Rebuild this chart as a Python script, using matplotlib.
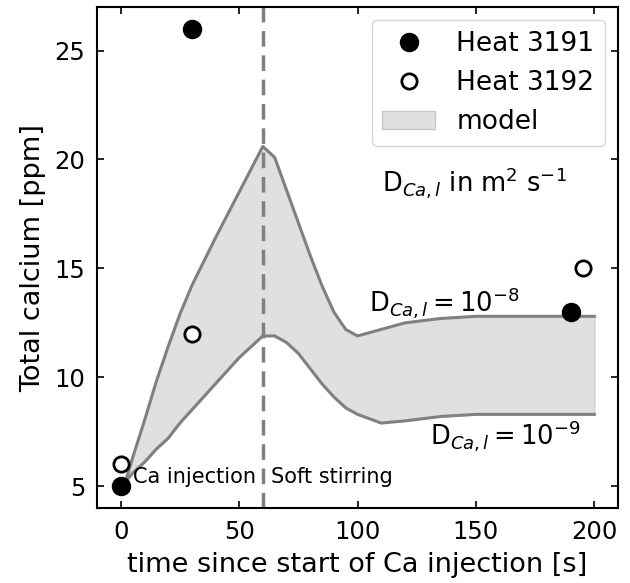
import matplotlib
matplotlib.use("Agg")
import matplotlib.pyplot as plt
from matplotlib.patches import Patch
from matplotlib.lines import Line2D

# measured Ca
heat3191_t = [0, 30, 190]
heat3191_ca = [5, 26, 13]
heat3192_t = [0, 30, 195]
heat3192_ca = [6, 12, 15]

# model band, D = 1e-8 (upper) and D = 1e-9 (lower)
model_t = [2, 5, 10, 15, 20, 25, 30, 40, 50, 60, 65, 70, 75, 80, 85, 90, 95, 100,
           110, 120, 135, 150, 200]
model_hi = [5.2, 6.3, 8.0, 9.8, 11.4, 12.9, 14.2, 16.4, 18.5, 20.6, 20.1, 18.6, 17.1,
            15.6, 14.2, 13.0, 12.2, 11.9, 12.2, 12.5, 12.7, 12.8, 12.8]
model_lo = [5.2, 5.6, 6.1, 6.7, 7.2, 7.9, 8.5, 9.7, 10.9, 11.9, 11.9, 11.6, 11.1,
            10.4, 9.7, 9.1, 8.6, 8.3, 7.9, 8.0, 8.2, 8.3, 8.3]

t_switch = 60

plt.rcParams['font.family'] = 'DejaVu Sans'
plt.rcParams['mathtext.fontset'] = 'dejavusans'

fig = plt.figure(figsize=(6.3, 5.83), dpi=100)
ax = fig.add_axes([0.154, 0.1286, 0.827, 0.8594])

ax.fill_between(model_t, model_lo, model_hi, color='#e0e0e0', edgecolor='#d0d0d0', lw=1)
ax.plot(model_t, model_hi, color='#808080', lw=2.2)
ax.plot(model_t, model_lo, color='#808080', lw=2.2)
ax.axvline(t_switch, color='#808080', lw=2.5, ls='--', dashes=(4.5, 2.5))

ax.plot(heat3191_t, heat3191_ca, 'o', color='black', ms=13, zorder=5)
ax.plot(heat3192_t, heat3192_ca, 'o', mfc='white', mec='black', mew=2, ms=11, zorder=5)

ax.text(5.4, 5.15, 'Ca injection', fontsize=15)
ax.text(63.3, 5.15, 'Soft stirring', fontsize=15)
ax.text(110.5, 18.55, r'$\mathrm{D}_{Ca,l}$ in m$^2$ s$^{-1}$', fontsize=18.5)
ax.text(105, 13.0, r'$\mathrm{D}_{Ca,l} = 10^{-8}$', fontsize=18.5)
ax.text(130.5, 6.9, r'$\mathrm{D}_{Ca,l} = 10^{-9}$', fontsize=18.5)

handles = [
    Line2D([], [], ls='', marker='o', color='black', ms=13),
    Line2D([], [], ls='', marker='o', mfc='white', mec='black', mew=2, ms=11),
    Patch(facecolor='#e0e0e0', edgecolor='#c8c8c8'),
]
ax.legend(handles, ['Heat 3191', 'Heat 3192', 'model'], loc='upper right', fontsize=19)

ax.set_xlim(-10, 210)
ax.set_ylim(4, 27)
ax.set_xticks([0, 50, 100, 150, 200])
ax.set_yticks([5, 10, 15, 20, 25])
ax.tick_params(direction='in', top=True, right=True, length=5, width=1.2, labelsize=17.5,
               pad=8.5)
for s in ax.spines.values():
    s.set_linewidth(1.5)
ax.set_xlabel('time since start of Ca injection [s]', fontsize=19.5, labelpad=6)
ax.set_ylabel('Total calcium [ppm]', fontsize=19.5, labelpad=6)

fig.savefig('out.png', dpi=100)
